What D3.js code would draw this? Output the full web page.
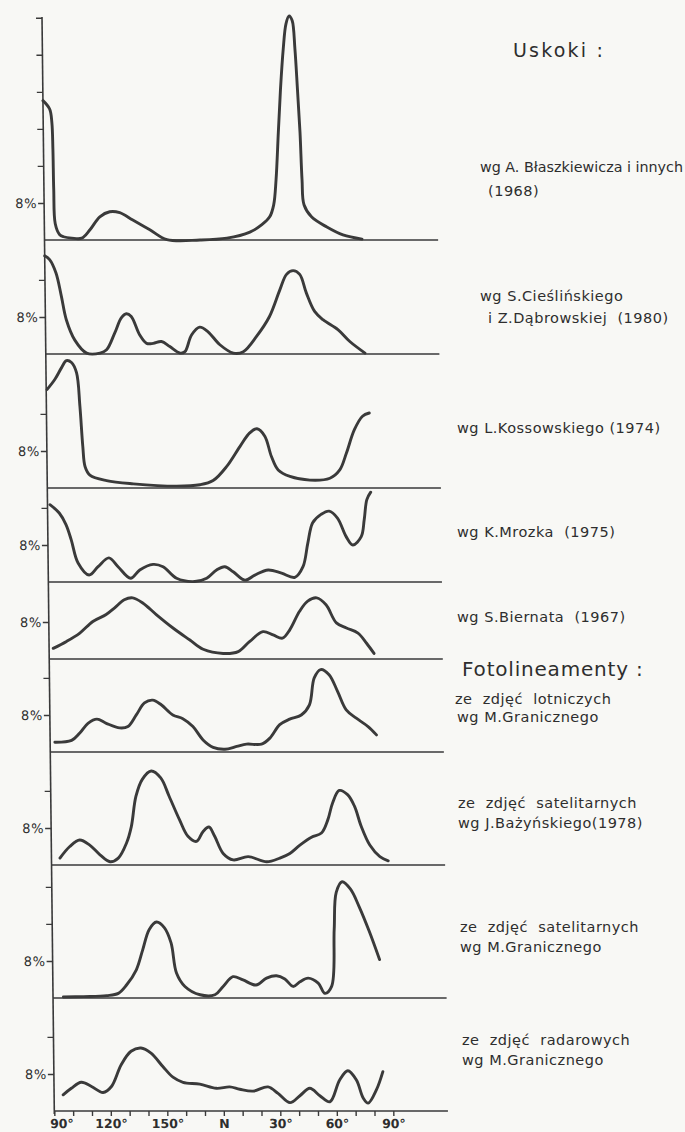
<!DOCTYPE html>
<html>
<head>
<meta charset="utf-8">
<script src="https://cdn.jsdelivr.net/npm/d3@7"></script>
<style>
  html, body { margin: 0; padding: 0; background: #f8f8f5; }
  svg { display: block; }
  text { font-family: "DejaVu Sans", sans-serif; fill: #2e2e2e; white-space: pre; }
</style>
</head>
<body>
<div id="chart"></div>
<script>
// Azimuth axis (bottom)
const azimuthTicks = [90, 100, 110, 120, 130, 140, 150, 160, 170, 180, 190, 200, 210, 220, 230, 240, 250, 260, 270];
const labelledAzimuths = [90, 120, 150, 180, 210, 240, 270];
const azimuthLabels = ["90°", "120°", "150°", "N", "30°", "60°", "90°"];

// Percent ticks shown on the left of each panel
const pctTicks = [
  [8, 16, 24, 32, 40, 48],
  [8, 16],
  [8, 16],
  [8, 16],
  [8],
  [8, 16],
  [8, 16],
  [8, 16, 24],
  [8, 16]
];

// Series: [azimuth, percent]
const blaszkiewicz = [[90,30.1],[93.5,28.3],[94.6,25.4],[95.0,19.6],[95.2,10.9],[95.8,3.5],[98,1.2],[100.1,0.7],[104.5,0.4],[109.8,0.4],[114.2,2.2],[119.5,5.0],[124.8,6.1],[130.1,5.9],[137.0,4.3],[146.0,2.2],[155.0,0.1],[172.6,0],[186.9,0.4],[199.1,1.7],[205.5,3.3],[209.7,5.0],[211.9,7.6],[213.3,13.0],[214.8,23.3],[216.2,32.6],[217.9,41.3],[219.5,46.7],[221.2,48.4],[222.8,47.4],[224.1,41.3],[225.2,32.6],[226.3,23.3],[227.1,13.0],[228.0,7.6],[231.9,5.0],[240.0,2.8],[248.5,1.1],[258.6,0.2]];
const cieslinski = [[90,21.2],[92.6,20.4],[95.9,17.5],[98.6,12.5],[101.1,7.4],[105.5,3.0],[111.7,0.2],[118.8,0.2],[122.3,0.9],[126.7,4.5],[130.3,7.8],[133.0,8.7],[135.6,8.1],[140.0,4.1],[143.6,2.3],[147.1,2.3],[151.5,2.7],[155.9,1.6],[161.3,0.2],[163.9,0.5],[167.5,4.1],[171.9,5.8],[176.3,4.8],[182.5,2.0],[189.6,0.2],[194.9,0.5],[202.0,3.8],[209.0,8.1],[214.7,13.9],[218.3,17.2],[221.8,18.0],[225.3,17.2],[228.7,13.2],[233.0,9.2],[237.4,7.4],[245.4,5.2],[251.5,2.7],[259.5,0.2]];
const kossowski = [[90.5,21.3],[94.7,23.5],[98.3,26.0],[100.9,27.5],[103.6,27.1],[106.2,24.9],[107.8,17.7],[109.1,9.0],[110.2,4.6],[112.7,2.8],[121.5,1.6],[135.7,0.9],[158.7,0.4],[171.1,0.7],[178.1,1.6],[185.3,4.6],[192.6,9.0],[197.8,11.9],[201.7,12.8],[205.8,11.2],[209.2,6.8],[212.7,3.9],[218.9,2.5],[229.5,1.7],[240.1,2.1],[245.4,3.9],[249.0,7.5],[253.4,12.6],[257.8,15.5],[261.4,16.2]];
const mrozek = [[91.3,16.7],[96.2,14.9],[99.7,12.4],[102.4,9.1],[105.9,4.1],[111.7,1.5],[116.5,3.3],[122.3,5.2],[127.1,3.3],[133.7,0.8],[138.6,2.6],[145.7,3.8],[151.0,3.3],[158.1,0.8],[167.8,0.1],[174.1,0.8],[179.4,2.6],[183.8,3.3],[188.2,2.2],[194.4,0.4],[199.7,1.5],[206.8,2.6],[213.9,1.9],[220.9,1.0],[225.3,3.3],[228.0,8.4],[230.7,12.8],[235.2,14.6],[239.5,15.3],[243.9,13.8],[248.4,9.8],[251.9,8.0],[256.4,9.8],[258.1,13.5],[259.6,17.8],[261.7,19.4]];
const biernat = [[92.2,2.3],[99.3,3.8],[106.4,5.6],[113.4,8.1],[120.5,9.6],[124.9,11.0],[130.2,12.8],[134.7,13.2],[140.0,12.1],[147.1,9.6],[155.9,6.7],[164.8,4.1],[171.8,2.1],[182.4,1.2],[190.4,1.6],[196.6,3.8],[203.7,5.9],[209.0,5.2],[214.0,4.5],[217.9,6.3],[223.2,10.3],[227.6,12.5],[232.4,13.2],[237.3,11.7],[242.7,7.8],[248.0,6.7],[254.1,5.6],[258.6,3.4],[262.5,1.2]];
const aerialGraniczny = [[92.5,2.1],[101.4,2.5],[105.8,4.1],[110.2,6.2],[115.0,7.1],[119.9,6.2],[127.0,5.2],[131.4,5.5],[135.9,8.0],[140.3,10.6],[144.7,11.2],[149.2,10.2],[155.3,8.0],[160.6,7.2],[165.9,5.5],[171.2,2.6],[176.5,1.0],[182.8,0.6],[189.0,1.2],[194.3,1.7],[202.2,1.7],[206.7,3.0],[212.0,5.9],[217.3,7.1],[223.5,8.0],[227.9,10.2],[230.6,16.0],[234.1,17.8],[238.5,16.7],[242.9,13.1],[247.4,9.1],[252.7,7.3],[258.9,5.5],[263.3,3.7]];
const satBazynski = [[94.5,1.5],[99.8,4.0],[105.1,5.4],[110.4,4.3],[115.8,2.2],[121.1,0.7],[125.5,1.5],[129.9,4.7],[132.6,8.3],[135.2,14.8],[138.7,18.5],[143.5,20.3],[148.5,18.8],[152.9,14.8],[158.2,9.8],[162.6,6.2],[167.1,5.1],[170.6,7.2],[173.8,8.2],[176.8,6.2],[181.2,2.5],[186.5,1.1],[194.5,1.8],[204.3,0.7],[211.3,1.5],[216.6,2.5],[222.0,4.3],[228.2,6.0],[233.5,6.9],[237.0,9.8],[239.6,13.4],[243.2,16.1],[247.6,15.2],[251.2,12.7],[254.7,8.3],[259.1,4.3],[264.4,1.8],[268.8,0.9]];
const satGraniczny = [[95.5,0.2],[106.1,0.3],[118.5,0.5],[124.7,1.0],[129.1,2.8],[134.4,6.1],[137.9,10.4],[141.5,14.8],[145.4,16.4],[149.5,15.2],[153.0,11.9],[155.7,5.4],[160.1,2.5],[168.1,0.7],[176.0,0.7],[180.4,2.5],[185.7,4.6],[191.0,3.9],[197.8,2.8],[203.5,4.3],[208.8,4.8],[213.2,4.1],[217.6,2.5],[221.2,3.5],[225.6,4.3],[230.9,3.2],[234.4,1.0],[238.0,2.5],[239.7,14.8],[241.0,22.8],[244.2,25.1],[248.6,23.5],[253.0,19.8],[258.3,14.4],[263.6,8.3]];
const radarGraniczny = [[94.8,3.5],[99.2,4.9],[104.5,6.2],[109.9,5.3],[116.0,4.0],[120.5,5.3],[125.8,10.0],[131.1,12.9],[136.4,13.6],[141.7,12.5],[147.9,9.6],[153.2,7.3],[158.5,6.2],[167.4,5.8],[176.2,4.9],[183.3,5.2],[188.6,4.7],[195.7,4.3],[203.6,5.2],[208.9,3.8],[215.2,1.8],[220.5,3.3],[225.8,4.9],[231.1,3.3],[236.4,2.0],[241.7,6.7],[246.1,8.7],[250.6,6.7],[254.1,2.8],[256.7,1.7],[261.2,4.6],[264.7,8.5]];

const series = [blaszkiewicz, cieslinski, kossowski, mrozek, biernat, aerialGraniczny, satBazynski, satGraniczny, radarGraniczny];

// Right hand texts
const faultHeading = "Uskoki :";
const photoHeading = "Fotolineamenty :";
const panelLabels = [
  ["wg A. Błaszkiewicza i innych", "(1968)"],
  ["wg S.Cieślińskiego", "i Z.Dąbrowskiej  (1980)"],
  ["wg L.Kossowskiego (1974)"],
  ["wg K.Mrozka  (1975)"],
  ["wg S.Biernata  (1967)"],
  ["ze  zdjęć  lotniczych", "wg M.Granicznego"],
  ["ze  zdjęć  satelitarnych", "wg J.Bażyńskiego(1978)"],
  ["ze  zdjęć  satelitarnych", "wg M.Granicznego"],
  ["ze  zdjęć  radarowych", "wg M.Granicznego"]
];

// Layout
const width = 685, height = 1132;
const baselines = [240, 354, 488, 582, 659, 752, 865, 998, 1111];
const axisTop = 17;
const pxPerPct = 4.63;
const labelPos = [
  [[480, 172], [488, 196]],
  [[480, 301], [488, 323]],
  [[457, 433]],
  [[457, 537]],
  [[457, 622]],
  [[455, 704], [457, 722]],
  [[458, 808], [458, 828]],
  [[460, 932], [460, 952]],
  [[462, 1045], [462, 1065]]
];

const ink = "#3a3a3a";

const svg = d3.select("#chart").append("svg")
  .attr("width", width)
  .attr("height", height);

svg.append("rect").attr("width", width).attr("height", height).attr("fill", "#f8f8f5");

// the drawing is slightly sheared in the scan: lean everything left towards the top
const plot = svg.append("g")
  .attr("transform", "translate(0,1111) skewX(0.644) translate(0,-1111)");

const x = d3.scaleLinear().domain([90, 270]).range([54.3, 393.3]);

// vertical axis
plot.append("line")
  .attr("x1", x(90)).attr("x2", x(90))
  .attr("y1", axisTop).attr("y2", 1114)
  .attr("stroke", ink).attr("stroke-width", 1.6);

const line = d3.line().curve(d3.curveCatmullRom.alpha(0.5));

series.forEach((data, i) => {
  const yb = baselines[i];
  const y = d3.scaleLinear().domain([0, 8]).range([yb, yb - 8 * pxPerPct]);

  plot.append("line")
    .attr("x1", x(90)).attr("x2", x(299))
    .attr("y1", yb).attr("y2", yb)
    .attr("stroke", ink).attr("stroke-width", 1.5);

  const ax = plot.append("g")
    .attr("transform", `translate(${x(90)},0)`)
    .call(d3.axisLeft(y).tickValues(pctTicks[i]).tickSize(6).tickPadding(1)
      .tickFormat(d => d === 8 ? "8%" : ""));
  ax.select(".domain").remove();
  ax.selectAll(".tick line").attr("stroke", ink).attr("stroke-width", 1.4);
  ax.selectAll(".tick text")
    .attr("font-family", "DejaVu Sans, sans-serif")
    .attr("font-size", 13)
    .attr("letter-spacing", 0.6)
    .attr("fill", "#2e2e2e");

  plot.append("path")
    .attr("d", line.x(d => x(d[0])).y(d => y(d[1]))(data))
    .attr("fill", "none")
    .attr("stroke", ink)
    .attr("stroke-width", 2.9)
    .attr("stroke-linejoin", "round")
    .attr("stroke-linecap", "round");
});

// bottom azimuth axis
const bx = plot.append("g")
  .attr("transform", "translate(0,1111)")
  .call(d3.axisBottom(x).tickValues(azimuthTicks).tickSize(5).tickPadding(3)
    .tickFormat(d => {
      const k = labelledAzimuths.indexOf(d);
      return k < 0 ? "" : azimuthLabels[k];
    }));
bx.select(".domain").remove();
bx.selectAll(".tick line").attr("stroke", ink).attr("stroke-width", 1.4);
bx.selectAll(".tick text")
  .attr("font-family", "Liberation Sans, Arial, sans-serif")
  .attr("font-weight", "bold")
  .attr("font-size", 12.5)
  .attr("fill", "#2e2e2e")
  .attr("dx", d => d === 90 ? 7 : 0);

// headings and source notes
svg.append("text")
  .attr("x", 513).attr("y", 57)
  .attr("font-size", 19)
  .attr("letter-spacing", 2.2)
  .text(faultHeading);

svg.append("text")
  .attr("x", 462).attr("y", 676)
  .attr("font-size", 20)
  .attr("letter-spacing", 0.8)
  .text(photoHeading);

panelLabels.forEach((lines, i) => {
  lines.forEach((t, j) => {
    const txt = svg.append("text")
      .attr("x", labelPos[i][j][0])
      .attr("y", labelPos[i][j][1])
      .attr("font-size", 14.5)
      .attr("letter-spacing", 0.5)
      .text(t);
    // keep long notes inside the page
    const room = width - 2 - labelPos[i][j][0];
    if (txt.node().getComputedTextLength() > room) {
      txt.attr("letter-spacing", 0);
      if (txt.node().getComputedTextLength() > room) {
        txt.attr("textLength", room).attr("lengthAdjust", "spacingAndGlyphs");
      }
    }
  });
});
</script>
</body>
</html>
